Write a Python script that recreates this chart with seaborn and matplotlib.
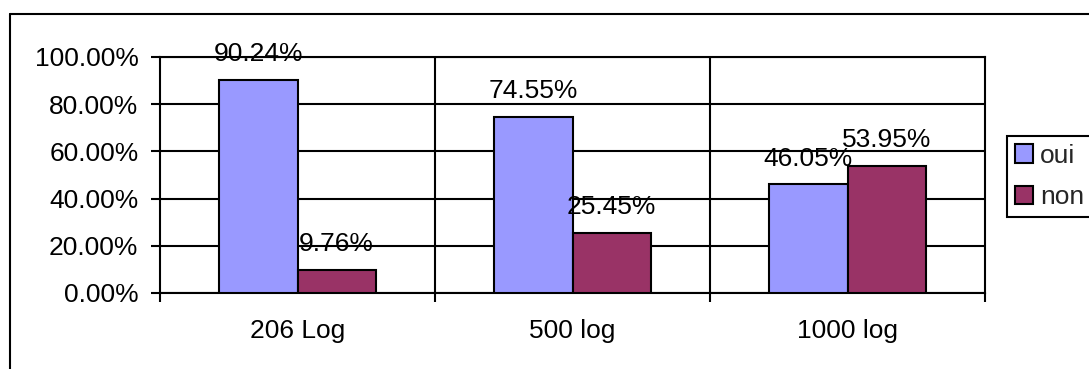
import matplotlib
matplotlib.use("Agg")
import matplotlib.pyplot as plt
from matplotlib.lines import Line2D
from matplotlib.ticker import PercentFormatter, FixedLocator
import seaborn as sns
import pandas as pd

categories = ["206 Log", "500 log", "1000 log"]
series = ["oui", "non"]
oui = [90.24, 74.55, 46.05]
non = [9.76, 25.45, 53.95]
colors = ["#9999FF", "#993366"]
yticks = [0.0, 0.2, 0.4, 0.6, 0.8, 1.0]

df = pd.DataFrame({
    "cat": categories * 2,
    "serie": ["oui"] * 3 + ["non"] * 3,
    "val": [v / 100 for v in oui + non],
})

sns.set_theme(style="white")
plt.rcParams["font.family"] = ["Liberation Sans", "DejaVu Sans"]
FS = 19
LW = 1.5

fig = plt.figure(figsize=(10.89, 3.69), dpi=100)
ax = fig.add_axes([160 / 1089, 1 - 293 / 369, (985 - 160) / 1089, (293 - 57) / 369])

sns.barplot(data=df, x="cat", y="val", hue="serie", order=categories,
            hue_order=series, palette=colors, width=0.57, gap=0,
            edgecolor="black", linewidth=LW, saturation=1, ax=ax, zorder=3)

ax.set_xlim(-0.5, 2.5)
ax.set_ylim(0, 1)
ax.set_yticks(yticks)
ax.yaxis.set_major_formatter(PercentFormatter(xmax=1, decimals=2))
ax.set_xlabel("")
ax.set_ylabel("")

# gridlines
for y in yticks:
    ax.axhline(y, color="black", lw=LW, zorder=1)
for x in [0.5, 1.5]:
    ax.axvline(x, color="black", lw=LW, zorder=1)

ax.xaxis.set_minor_locator(FixedLocator([-0.5, 0.5, 1.5, 2.5]))
ax.tick_params(axis="x", which="major", length=0, pad=19, labelsize=FS, colors="black")
ax.tick_params(axis="x", which="minor", length=6.5, width=LW, direction="out",
               bottom=True, color="black")
ax.tick_params(axis="y", which="major", length=6.5, width=LW, direction="out",
               left=True, pad=9, labelsize=FS, colors="black")
for s in ax.spines.values():
    s.set_color("black")
    s.set_linewidth(LW)
    s.set_visible(True)

# value labels
for cont in ax.containers:
    for bar in cont:
        h = bar.get_height()
        ax.annotate(f"{h * 100:.2f}%", (bar.get_x() + bar.get_width() / 2, h),
                    xytext=(0, 13.5), textcoords="offset points",
                    ha="center", va="baseline", fontsize=FS, color="black",
                    zorder=5, annotation_clip=False)

# legend
handles, labels = ax.get_legend_handles_labels()
if ax.legend_:
    ax.legend_.remove()
leg = fig.legend(handles, labels, loc="upper left",
                 bbox_to_anchor=(1007 / 1089, 1 - 136 / 369),
                 fontsize=FS, frameon=True, fancybox=False, edgecolor="black",
                 framealpha=1, borderpad=0.3, borderaxespad=0,
                 handlelength=0.7, handleheight=0.7, handletextpad=0.25,
                 labelspacing=0.65)
leg.get_frame().set_linewidth(LW)

# outer chart frame (left and top edges)
fig.add_artist(Line2D([10 / 1089, 10 / 1089], [0, 1 - 14 / 369], color="black",
                      lw=LW, transform=fig.transFigure))
fig.add_artist(Line2D([10 / 1089, 1], [1 - 14 / 369, 1 - 14 / 369], color="black",
                      lw=LW, transform=fig.transFigure))

fig.savefig("out.png", dpi=100)
